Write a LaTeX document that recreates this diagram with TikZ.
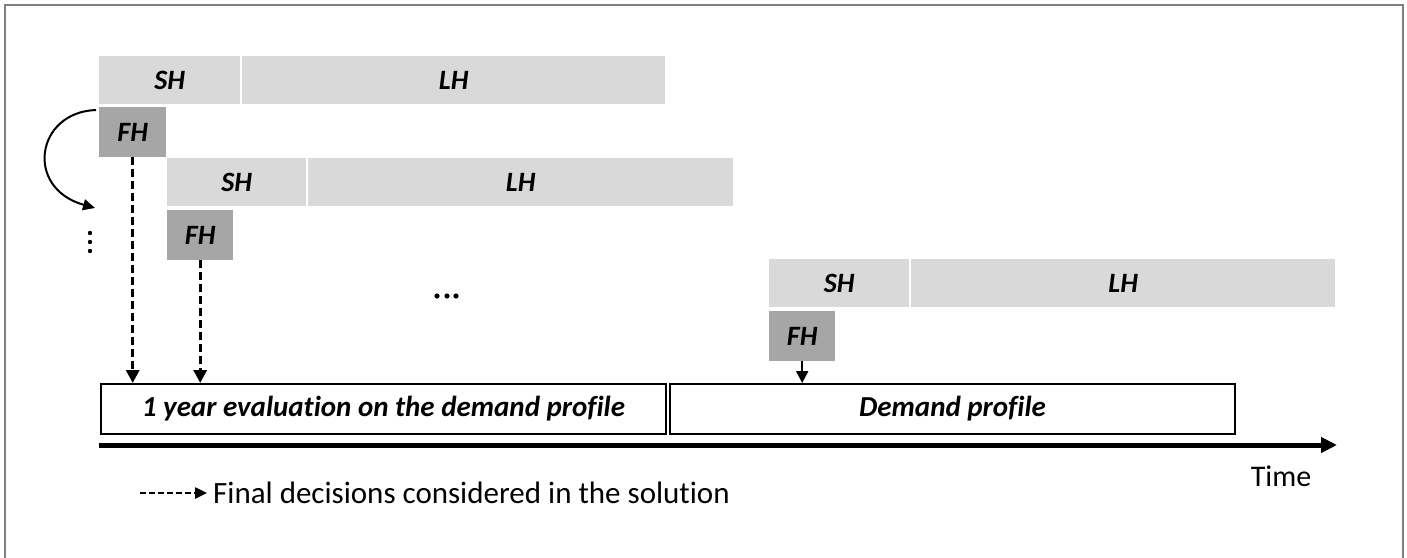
\documentclass[tikz,border=0pt]{standalone}
\usepackage{fontspec}
\setmainfont{Carlito}[Ligatures={NoCommon}]
\usetikzlibrary{arrows.meta}
\definecolor{lightbox}{HTML}{D9D9D9}
\definecolor{darkbox}{HTML}{A6A6A6}
\definecolor{framegray}{HTML}{808080}
\tikzset{
  hbox/.style={fill=lightbox, draw=none, anchor=north west, inner sep=0pt, minimum height=48pt,
    font=\fontsize{28}{32}\selectfont\bfseries\itshape},
  fhbox/.style={fill=darkbox, draw=none, anchor=north west, inner sep=0pt, minimum width=67pt, minimum height=50pt,
    font=\fontsize{28}{32}\selectfont\bfseries\itshape},
  evalbox/.style={draw=black, line width=2pt, anchor=north west, inner sep=0pt, minimum height=50pt,
    font=\fontsize{29}{33}\selectfont\bfseries\itshape},
  decision/.style={line width=3pt, dash pattern=on 8pt off 4pt, -{Triangle[length=13pt,width=13pt]}},
  dotmark/.style={fill=black, draw=none}
}
\begin{document}
\begin{tikzpicture}[x=1pt,y=-1pt]
\useasboundingbox (0,0) rectangle (1407,557);
\draw[framegray, line width=2.5pt] (5,600) -- (5,5) -- (1403,5) -- (1403,600);
% row 1
\node[hbox, minimum width=141pt] (sh1) at (99,56) {SH};
\node[hbox, minimum width=423pt] (lh1) at (242,56) {LH};
\node[fhbox] (fh1) at (99,107) {FH};
% row 2
\node[hbox, minimum width=139pt] (sh2) at (167,158) {SH};
\node[hbox, minimum width=425pt] (lh2) at (308,158) {LH};
\node[fhbox, minimum width=66pt] (fh2) at (167,210) {FH};
% row 3
\node[hbox, minimum width=140pt] (sh3) at (769,259) {SH};
\node[hbox, minimum width=424pt] (lh3) at (911,259) {LH};
\node[fhbox, minimum width=66pt] (fh3) at (769,311) {FH};
% bottom boxes
\node[evalbox, minimum width=565pt] (eval) at (100,383) {1 year evaluation on the demand profile};
\node[evalbox, minimum width=565pt] (demand) at (669,383) {Demand profile};
% time axis
\coordinate (tstart) at (99,445);
\coordinate (tend) at (1337,445);
\draw[line width=5pt, -{Triangle[length=16pt,width=15pt]}] (tstart) -- (tend);
\node[anchor=center, font=\fontsize{30}{34}\selectfont] (time) at (1281,476) {Time};
% decision arrows
\draw[decision] (fh1.south) -- (fh1.south |- eval.north);
\draw[decision] (fh2.south) -- (fh2.south |- eval.north);
\draw[line width=2pt, -{Triangle[length=12pt,width=12pt]}] (fh3.south) -- (fh3.south |- demand.north);
% curved arrow
\coordinate (cstart) at (96,110);
\coordinate (cend) at (95,208);
\draw[line width=2pt, -{Triangle[length=12pt,width=11pt]}] (cstart) .. controls (36,112) and (24,188) .. (cend);
% dots
\fill[dotmark] (90,233) circle (2.2pt) (90,242) circle (2.2pt) (90,251) circle (2.2pt);
\fill[dotmark] (437,296) circle (2.6pt) (447,296) circle (2.6pt) (456,296) circle (2.6pt);
% legend
\node[anchor=west, inner sep=0pt, font=\fontsize{31}{35}\selectfont] (legend) at (213,493) {Final decisions considered in the solution};
\coordinate (lstart) at (140,493);
\draw[line width=2.5pt, dash pattern=on 6pt off 3pt, -{Triangle[length=12pt,width=11pt]}] (lstart) -- ([xshift=-6pt]legend.west);
\end{tikzpicture}
\end{document}
